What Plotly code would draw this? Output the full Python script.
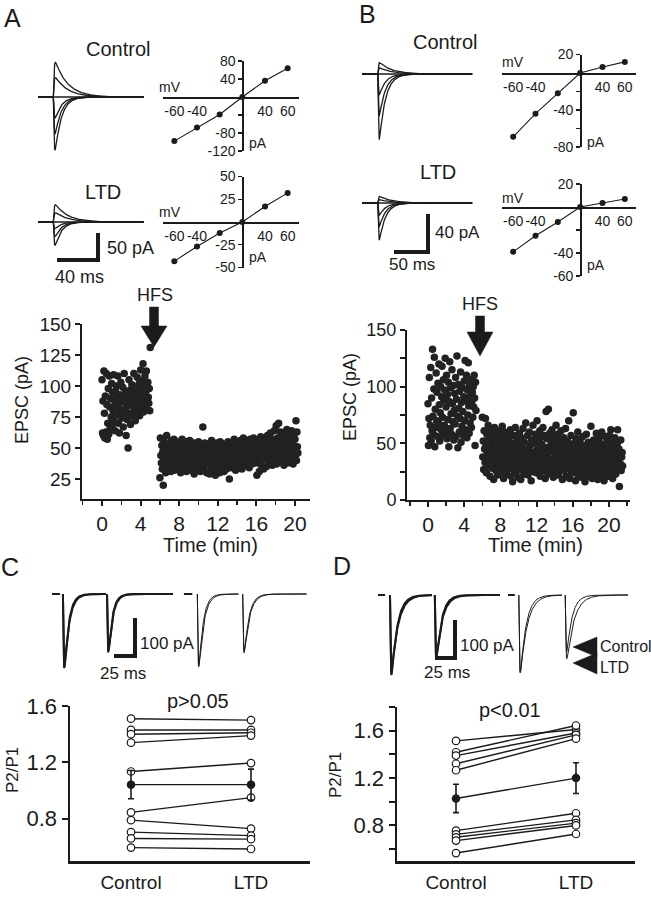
import numpy as np
import plotly.graph_objects as go

W, H = 651, 899
FONT = "Liberation Sans, Arial, Helvetica, sans-serif"
NARROW = "Liberation Sans Narrow, Arial Narrow, Liberation Sans, Arial, sans-serif"
INK = "#1b1b1b"

# ---------------- data ----------------
IV_MV = [-60, -40, -20, 0, 40, 60]
IV_CAT = [str(v) for v in IV_MV]
IV_XLABELS = ["-60", "-40", "40", "60"]
A_CTRL_IV = [-98, -68, -39, 0, 36, 64]
A_LTD_IV = [-43, -27, -12, 0, 17, 32]
B_CTRL_IV = [-69, -44, -22, 0, 6.5, 12]
B_LTD_IV = [-39, -25, -13, 0, 3.5, 7]

A_CTRL_YTICKS = [80, 40, -40, -80, -120]
A_CTRL_YTEXT = ["80", "40", "", "-80", "-120"]
A_LTD_YTICKS = [50, 25, -25, -50]
A_LTD_YTEXT = ["50", "25", "-25", "-50"]
B_CTRL_YTICKS = [20, -20, -40, -60, -80]
B_CTRL_YTEXT = ["20", "", "-40", "", "-80"]
B_LTD_YTICKS = [20, -20, -40, -60]
B_LTD_YTEXT = ["20", "", "-40", "-60"]

SAMPLE_MIN = 0.05  # one sweep every 3 s
A_PRE_T0, A_POST_T0 = 0.0, 6.0
B_PRE_T0, B_POST_T0 = 0.0, 6.0

A_PRE = [105, 62, 88, 60, 112, 78, 58, 92, 63, 110, 85, 57, 70, 98, 61, 108, 83, 66, 90, 75, 102,
         68, 95, 80, 109, 72, 88, 64, 96, 84, 100, 77, 91, 108, 70, 86, 62, 93, 81, 103, 74,
         90, 79, 99, 67, 87, 110, 76, 94, 82, 60, 96, 73, 89, 50, 85, 105, 78, 92, 69, 97,
         84, 101, 75, 93, 88, 110, 80, 96, 72, 91, 99, 85, 107, 78, 94, 82, 102, 76, 89, 113,
         96, 83, 104, 90, 118, 79, 99, 87, 108, 93, 84, 112, 97, 81, 103, 91, 86, 98, 80, 131]
A_POST = [26, 58, 44, 38, 52, 33, 47, 20, 41, 55, 36, 49, 30, 45, 60, 39, 51, 34, 46, 42,
          53, 37, 48, 31, 56, 43, 35, 50, 40, 57, 32, 46, 52, 38, 44, 55, 34, 49, 41, 47,
          36, 54, 45, 30, 51, 42, 57, 39, 48, 33, 53, 44, 37, 50, 46, 31, 55, 43, 40, 52,
          47, 35, 56, 41, 49, 32, 45, 53, 38, 50, 44, 29, 54, 42, 36, 48, 51, 34, 46, 40,
          55, 37, 43, 50, 31, 47, 52, 39, 45, 67, 33, 49, 41, 54, 36, 44, 51, 30, 48, 42,
          38, 53, 46, 29, 50, 35, 44, 56, 40, 47, 32, 52, 43, 37, 49, 28, 45, 54, 39, 46,
          51, 34, 42, 48, 30, 55, 45, 38, 50, 41, 36, 53, 44, 31, 47, 52, 39, 46, 33, 49,
          43, 55, 37, 48, 25, 51, 40, 46, 34, 53, 42, 50, 36, 45, 57, 39, 48, 32, 44, 52,
          47, 38, 54, 42, 50, 35, 46, 56, 40, 49, 33, 52, 44, 58, 41, 48, 36, 53, 45, 51,
          39, 55, 47, 43, 52, 34, 49, 57, 41, 46, 53, 37, 50, 44, 58, 42, 48, 54, 38, 51,
          45, 28, 53, 47, 40, 56, 31, 50, 44, 59, 36, 48, 52, 42, 55, 33, 49, 46, 57, 41,
          51, 35, 47, 60, 43, 54, 38, 50, 46, 62, 40, 53, 48, 36, 57, 44, 51, 64, 42, 55,
          49, 68, 37, 52, 58, 45, 70, 41, 55, 50, 63, 39, 47, 57, 53, 44, 60, 36, 51, 46,
          59, 42, 54, 65, 48, 38, 56, 50, 62, 45, 53, 40, 58, 64, 47, 55, 37, 52, 61, 49,
          57, 44, 72, 40, 63, 51, 46]
B_PRE = [85, 48, 72, 108, 55, 66, 117, 52, 90, 61, 133, 74, 58, 98, 126, 47, 80, 64, 112, 70,
         95, 56, 103, 68, 120, 84, 52, 77, 100, 62, 91, 118, 73, 57, 106, 88, 66, 97, 125, 60,
         82, 110, 54, 93, 71, 104, 47, 87, 122, 63, 99, 76, 58, 115, 85, 69, 101, 53, 79, 94,
         67, 108, 56, 89, 127, 74, 46, 102, 81, 60, 96, 72, 113, 51, 86, 65, 99, 78, 57, 91,
         105, 70, 123, 62, 88, 110, 55, 97, 75, 121, 83, 59, 101, 68, 92, 106, 64, 87, 95, 73,
         100, 82, 110, 90, 48, 104, 79]
B_POST = [73, 38, 52, 27, 61, 45, 33, 72, 49, 24, 58, 41, 30, 66, 36, 55, 47, 21, 43, 62,
          35, 50, 28, 59, 44, 18, 39, 64, 31, 53, 26, 47, 40, 57, 22, 34, 61, 45, 29, 51,
          42, 25, 56, 37, 65, 30, 48, 19, 44, 60, 33, 27, 52, 40, 23, 58, 36, 46, 31, 54,
          28, 43, 62, 21, 38, 50, 32, 16, 47, 57, 26, 41, 35, 64, 24, 45, 30, 53, 37, 20,
          49, 33, 59, 27, 42, 18, 55, 36, 46, 29, 63, 39, 23, 51, 34, 44, 68, 26, 40, 31,
          57, 22, 45, 35, 60, 28, 48, 38, 17, 53, 32, 42, 66, 25, 50, 36, 29, 58, 41, 24,
          44, 70, 33, 52, 27, 47, 39, 61, 21, 55, 36, 30, 49, 43, 64, 26, 40, 57, 34, 19,
          46, 78, 31, 54, 38, 23, 80, 42, 28, 59, 35, 48, 25, 51, 62, 32, 44, 20, 56, 37,
          29, 50, 41, 66, 24, 45, 34, 58, 22, 39, 53, 30, 47, 36, 61, 27, 43, 18, 49, 33,
          55, 26, 40, 31, 63, 21, 46, 37, 52, 28, 43, 70, 34, 19, 48, 39, 57, 25, 44, 30,
          36, 77, 24, 50, 33, 41, 17, 54, 29, 45, 38, 60, 22, 35, 47, 27, 52, 40, 31, 20,
          43, 28, 56, 34, 23, 48, 37, 16, 46, 31, 58, 26, 40, 35, 51, 21, 44, 30, 39, 25,
          65, 32, 47, 19, 42, 36, 53, 27, 38, 23, 49, 34, 59, 29, 41, 18, 45, 33, 55, 24,
          37, 50, 28, 43, 60, 22, 39, 31, 48, 17, 44, 35, 56, 26, 41, 30, 52, 38, 21, 46,
          33, 57, 25, 40, 62, 29, 47, 36, 19, 51, 34, 44, 27, 55, 38, 23, 42, 31, 49, 62,
          35, 28, 45, 12, 40, 32, 53, 26, 38, 42, 30]
TIME_TICKS = [0, 4, 8, 12, 16, 20]
A_EPSC_TICKS = [25, 50, 75, 100, 125, 150]
B_EPSC_TICKS = [0, 25, 50, 75, 100, 125, 150]
B_EPSC_TEXT = ["0", "", "50", "", "100", "", "150"]

GROUPS = ["Control", "LTD"]
C_CTRL = [1.51, 1.43, 1.40, 1.34, 1.135, 0.845, 0.79, 0.705, 0.66, 0.595]
C_LTD = [1.50, 1.43, 1.41, 1.39, 1.195, 0.95, 0.73, 0.68, 0.655, 0.585]
C_MEAN = [1.042, 1.042]
C_SEM = [0.10, 0.11]
D_CTRL = [1.514, 1.418, 1.39, 1.321, 1.266, 0.756, 0.725, 0.70, 0.672, 0.567]
D_LTD = [1.61, 1.644, 1.58, 1.565, 1.533, 0.903, 0.847, 0.82, 0.80, 0.728]
D_MEAN = [1.028, 1.20]
D_SEM = [0.12, 0.13]
C_YTICKS = [0.8, 1.2, 1.6]
D_YTICKS = [0.6, 0.8, 1.0, 1.2, 1.4, 1.6, 1.8]
D_YTEXT = ["", "0.8", "", "1.2", "", "1.6", ""]

# paired-pulse example sweeps: amplitude (pA) and decay (ms) of two overlaid sweeps per group
C_PP_AMP = [[195, 188], [153, 147], [192, 189], [155, 150]]
C_PP_TAU = [[5.0, 5.6], [4.5, 5.0], [5.0, 5.8], [5.5, 6.2]]
D_PP_AMP = [[210, 200], [166, 158], [205, 202], [150, 168]]
D_PP_TAU = [[7.0, 8.0], [6.5, 7.5], [7.0, 8.5], [6.5, 9.0]]
# sweep timing (ms): (pre-baseline start, pre-baseline end or None, onset, end)
C_PP_TIME = [(0, 9.5, 13, 64), (None, None, 65.5, 144), (157, 167, 173, 222), (None, None, 227, 303)]
D_PP_TIME = [(0, 8.8, 15, 67.5), (None, None, 71, 152.5), (162.5, 171, 176, 230), (None, None, 234, 312.5)]

# ---------------- helpers ----------------
fig = go.Figure()
axes = {}
count = [0]


def new_axes(xpx, ypx, xr, yr, xopt=None, yopt=None):
    count[0] += 1
    k = count[0]
    s = "" if k == 1 else str(k)
    xa = dict(domain=[xpx[0] / W, xpx[1] / W], range=list(xr), anchor="y" + s, visible=False,
              fixedrange=True, showgrid=False, zeroline=False)
    ya = dict(domain=[1 - ypx[1] / H, 1 - ypx[0] / H], range=list(yr), anchor="x" + s, visible=False,
              fixedrange=True, showgrid=False, zeroline=False)
    if xopt:
        xa.update(xopt)
    if yopt:
        ya.update(yopt)
    axes["xaxis" + s] = xa
    axes["yaxis" + s] = ya
    return "x" + s, "y" + s


def xr_px(p0, p1, origin, scale):
    return [(p0 - origin) / scale, (p1 - origin) / scale]


def yr_px(top, bot, origin, scale):
    return [(origin - bot) / scale, (origin - top) / scale]


def psc(t, onset, amp, tau_r, tau_d):
    s = np.clip(t - onset, 0, None)
    tp = tau_r * tau_d / (tau_d - tau_r) * np.log(tau_d / tau_r)
    peak = np.exp(-tp / tau_d) - np.exp(-tp / tau_r)
    return amp * (np.exp(-s / tau_d) - np.exp(-s / tau_r)) / peak


annotations = []
shapes = []


def ann(text, px, py, size, xanchor="center", font=FONT, angle=0, yanchor="middle"):
    annotations.append(dict(text=text, x=px / W, y=1 - py / H, xref="paper", yref="paper",
                            showarrow=False, xanchor=xanchor, yanchor=yanchor, textangle=angle,
                            font=dict(family=font, size=size, color=INK)))


def poly(points):
    d = "M " + " L ".join(f"{x / W:.5f},{1 - y / H:.5f}" for x, y in points) + " Z"
    shapes.append(dict(type="path", path=d, xref="paper", yref="paper",
                       fillcolor=INK, line=dict(color=INK, width=0.5)))


def hfs_arrow(cx, y0, yneck, ytip, shw, hhw):
    poly([(cx - shw, y0), (cx + shw, y0), (cx + shw, yneck), (cx + hhw, yneck), (cx, ytip),
          (cx - hhw, yneck), (cx - shw, yneck)])


def scale_bar(xref, yref, t0, t1, i0, i1):
    shapes.append(dict(type="path", xref=xref, yref=yref,
                       path=f"M {t0},{i0} L {t1},{i0} L {t1},{i1}",
                       line=dict(color=INK, width=4)))


# ---------------- I-V sweeps (A, B) ----------------
def iv_sweeps(box, origin_x, xs, base_y, ys, t_end, onset, currents, tau_in, tau_out):
    xref, yref = new_axes(box[:2], box[2:], xr_px(box[0], box[1], origin_x, xs),
                          yr_px(box[2], box[3], base_y, ys))
    t = np.linspace(0, t_end, 700)
    for cur in currents:
        tau = tau_in if cur < 0 else tau_out
        fig.add_trace(go.Scatter(x=t, y=psc(t, onset, cur, 0.6, tau), mode="lines",
                                 line=dict(color=INK, width=1.3), xaxis=xref, yaxis=yref,
                                 hoverinfo="skip"))
    return xref, yref


def iv_plot(xpx, ytop, ybot, yr, zero_y_px, vals, yticks, ytext):
    xzero_px = xpx[0] + (IV_CAT.index("0") + 0.5) * (xpx[1] - xpx[0]) / len(IV_CAT)
    xopt = dict(visible=True, type="category", categoryorder="array", categoryarray=IV_CAT,
                range=[-0.5, len(IV_CAT) - 0.5], anchor="free", position=1 - zero_y_px / H,
                showline=True, linecolor=INK, linewidth=1.5, ticks="", tickangle=0,
                tickmode="array", tickvals=IV_XLABELS, ticktext=IV_XLABELS,
                tickfont=dict(family=FONT, size=14, color=INK), ticklabelstandoff=1)
    yopt = dict(visible=True, anchor="free", position=xzero_px / W, side="left",
                showline=True, linecolor=INK, linewidth=1.5, ticks="outside", ticklen=4,
                tickwidth=1.3, tickcolor=INK, tickmode="array", tickvals=yticks, ticktext=ytext,
                tickfont=dict(family=FONT, size=14, color=INK))
    xref, yref = new_axes(xpx, (ytop, ybot), [-0.5, 5.5], yr, xopt, yopt)
    fig.add_trace(go.Scatter(x=IV_CAT, y=vals, mode="lines+markers",
                             line=dict(color=INK, width=1.1), marker=dict(color=INK, size=6),
                             xaxis=xref, yaxis=yref, cliponaxis=False, hoverinfo="skip"))


# Panel A
iv_sweeps((30, 155, 50, 165), 38, 1.025, 97, 0.54, 103, 15, A_CTRL_IV, 6, 12)
ax_altd = iv_sweeps((30, 155, 190, 268), 38, 1.025, 222, 0.54, 103, 15, A_LTD_IV, 6, 12)
scale_bar(ax_altd[0], ax_altd[1], (57 - 38) / 1.025, (98 - 38) / 1.025, (222 - 260) / 0.54, (222 - 233) / 0.54)
iv_plot((163, 299), 61, 151, [-120, 80], 97, A_CTRL_IV, A_CTRL_YTICKS, A_CTRL_YTEXT)
iv_plot((163, 299), 176.5, 267.5, [-50, 50], 222, A_LTD_IV, A_LTD_YTICKS, A_LTD_YTEXT)

# Panel B
iv_sweeps((355, 485, 45, 160), 362, 0.68, 74, 0.95, 162, 23.5, B_CTRL_IV, 9, 18)
ax_bltd = iv_sweeps((355, 485, 180, 262), 362, 0.68, 203, 0.95, 162, 23.5, B_LTD_IV, 9, 18)
scale_bar(ax_bltd[0], ax_bltd[1], (394 - 362) / 0.68, (428 - 362) / 0.68, (203 - 252) / 0.95, (203 - 214) / 0.95)
iv_plot((502, 636), 54.5, 147, [-80, 20], 73, B_CTRL_IV, B_CTRL_YTICKS, B_CTRL_YTEXT)
iv_plot((502, 636), 184, 276, [-60, 20], 207, B_LTD_IV, B_LTD_YTICKS, B_LTD_YTEXT)


# ---------------- EPSC time courses ----------------
def time_course(xpx, ypx, xr, yr, pre, post, pre_t0, post_t0, yticks, ytext, ysize):
    xopt = dict(visible=True, showline=True, linecolor=INK, linewidth=2, ticks="outside",
                ticklen=5, tickwidth=2, tickcolor=INK, tickmode="array", tickvals=TIME_TICKS,
                tickfont=dict(family=NARROW, size=21, color=INK), ticklabelstandoff=0,
                minor=dict(tickmode="linear", tick0=0, dtick=2, ticks="outside", ticklen=4,
                           tickwidth=1.5, tickcolor=INK))
    yopt = dict(visible=True, showline=True, linecolor=INK, linewidth=2, ticks="outside",
                ticklen=5, tickwidth=2, tickcolor=INK, tickmode="array", tickvals=yticks,
                ticktext=ytext, tickfont=dict(family=FONT, size=ysize, color=INK))
    xref, yref = new_axes(xpx, ypx, xr, yr, xopt, yopt)
    t_pre = [pre_t0 + i * SAMPLE_MIN for i in range(len(pre))]
    t_post = [post_t0 + i * SAMPLE_MIN for i in range(len(post))]
    fig.add_trace(go.Scatter(x=t_pre + t_post, y=pre + post, mode="markers",
                             marker=dict(color="#222222", size=7.5, line=dict(width=0)),
                             xaxis=xref, yaxis=yref, cliponaxis=False, hoverinfo="skip"))


time_course((82, 310), (324, 499), xr_px(82, 310, 102, 9.65), [150 - 175 / 1.24, 150],
            A_PRE, A_POST, A_PRE_T0, A_POST_T0, A_EPSC_TICKS, [str(v) for v in A_EPSC_TICKS], 19)
time_course((407, 630), (330, 500), xr_px(407, 630, 428, 9.05), [0, 150],
            B_PRE, B_POST, B_PRE_T0, B_POST_T0, B_EPSC_TICKS, B_EPSC_TEXT, 18)


# ---------------- paired-pulse sweeps (C, D) ----------------
def pp_sweeps(box, origin_x, xs, base_y, ys, timing, amps, taus):
    xref, yref = new_axes(box[:2], box[2:], xr_px(box[0], box[1], origin_x, xs),
                          yr_px(box[2], box[3], base_y, ys))
    for g, (b0, b1, onset, end) in enumerate(timing):
        width = 2.0 if g < 2 else 1.0
        if b0 is not None:
            fig.add_trace(go.Scatter(x=[b0, b1], y=[0, 0], mode="lines",
                                     line=dict(color=INK, width=2.0), xaxis=xref, yaxis=yref,
                                     hoverinfo="skip"))
        t = np.linspace(onset, end, 400)
        for amp, tau in zip(amps[g], taus[g]):
            fig.add_trace(go.Scatter(x=t, y=psc(t, onset, -amp, 0.7, tau), mode="lines",
                                     line=dict(color=INK, width=width), xaxis=xref, yaxis=yref,
                                     hoverinfo="skip"))
    return xref, yref


ax_c = pp_sweeps((40, 330, 580, 690), 52, 0.84, 594, 0.38, C_PP_TIME, C_PP_AMP, C_PP_TAU)
scale_bar(ax_c[0], ax_c[1], (114 - 52) / 0.84, (135 - 52) / 0.84, (594 - 656) / 0.38, (594 - 618) / 0.38)
ax_d = pp_sweeps((370, 645, 585, 690), 378, 0.8, 595, 0.38, D_PP_TIME, D_PP_AMP, D_PP_TAU)
scale_bar(ax_d[0], ax_d[1], (435 - 378) / 0.8, (455 - 378) / 0.8, (595 - 658) / 0.38, (595 - 620) / 0.38)


# ---------------- paired-pulse ratio ----------------
def ppr_plot(xpx, ypx, xr, yr, ctrl, ltd, mean, sem, yticks, ytext):
    xopt = dict(visible=True, type="category", categoryorder="array", categoryarray=GROUPS,
                range=xr, showline=True, linecolor=INK, linewidth=2.5, ticks="",
                tickfont=dict(family=FONT, size=19, color=INK), ticklabelstandoff=3)
    yopt = dict(visible=True, showline=True, linecolor=INK, linewidth=2.5, ticks="outside",
                ticklen=6, tickwidth=2, tickcolor=INK, tickmode="array", tickvals=yticks,
                ticktext=ytext, tickfont=dict(family=FONT, size=22, color=INK))
    xref, yref = new_axes(xpx, ypx, xr, yr, xopt, yopt)
    for c, l in zip(ctrl, ltd):
        fig.add_trace(go.Scatter(x=GROUPS, y=[c, l], mode="lines+markers",
                                 line=dict(color=INK, width=1.4),
                                 marker=dict(symbol="circle", size=7.5, color="white",
                                             line=dict(color=INK, width=1.2)),
                                 xaxis=xref, yaxis=yref, cliponaxis=False, hoverinfo="skip"))
    fig.add_trace(go.Scatter(x=GROUPS, y=mean, mode="lines+markers",
                             line=dict(color=INK, width=1.4),
                             marker=dict(symbol="circle", size=8.5, color=INK),
                             error_y=dict(type="data", array=sem, color=INK, thickness=1.6, width=3),
                             xaxis=xref, yaxis=yref, cliponaxis=False, hoverinfo="skip"))


ppr_plot((70, 310), (706, 861), [-(131 - 70) / 120, (310 - 131) / 120], [0.5, 1.6],
         C_CTRL, C_LTD, C_MEAN, C_SEM, C_YTICKS, [f"{v:.1f}" for v in C_YTICKS])
ppr_plot((397, 635), (707, 861), [-(456 - 397) / 120, (635 - 456) / 120], [0.5, 1.8],
         D_CTRL, D_LTD, D_MEAN, D_SEM, D_YTICKS, D_YTEXT)

# ---------------- text & decorations ----------------
ann("A", 12, 18, 25)
ann("B", 367, 14, 25)
ann("C", 10, 567, 25)
ann("D", 342, 566, 25)
ann("Control", 118, 49, 20)
ann("LTD", 103, 192, 20)
ann("Control", 445, 42, 20)
ann("LTD", 438, 172, 20)
ann("mV", 170, 87, 14)
ann("pA", 247, 143, 14, xanchor="left")
ann("mV", 170, 212, 14)
ann("pA", 247, 257, 14, xanchor="left")
ann("mV", 513, 62, 14)
ann("pA", 585, 142, 14, xanchor="left")
ann("mV", 513, 198, 14)
ann("pA", 585, 265, 14, xanchor="left")
ann("50 pA", 105, 248, 18, xanchor="left")
ann("40 ms", 79, 277, 18)
ann("40 pA", 433, 233, 17, xanchor="left")
ann("50 ms", 412, 265, 17)
ann("HFS", 155, 295, 18)
ann("HFS", 480, 304, 18)
hfs_arrow(154, 307, 326, 347, 4.5, 13)
hfs_arrow(480, 316, 332, 356, 4.5, 13)
ann("EPSC (pA)", 22, 400, 18, angle=-90)
ann("EPSC (pA)", 350, 397, 18, angle=-90)
ann("Time (min)", 210, 545, 20, font=NARROW)
ann("Time (min)", 535, 545, 20, font=NARROW)
ann("100 pA", 138, 643, 17, xanchor="left")
ann("25 ms", 123, 673, 17)
ann("100 pA", 458, 645, 17, xanchor="left")
ann("25 ms", 447, 672, 17)
poly([(573, 647), (597, 637), (597, 657)])
poly([(573, 663), (597, 653), (597, 674)])
ann("Control", 598, 646, 16, xanchor="left")
ann("LTD", 598, 667, 16, xanchor="left")
ann("p>0.05", 198, 701, 20)
ann("p<0.01", 510, 710, 20)
ann("P2/P1", 12, 770, 17, angle=-90)
ann("P2/P1", 335, 775, 17, angle=-90)

fig.update_layout(template="none", width=W, height=H, margin=dict(l=0, r=0, t=0, b=0),
                  paper_bgcolor="white", plot_bgcolor="rgba(0,0,0,0)", showlegend=False,
                  annotations=annotations, shapes=shapes, **axes)

fig.write_html("out.html", config={"displayModeBar": False, "staticPlot": True},
               post_script="document.body.style.margin='0';document.body.style.overflow='hidden';")
